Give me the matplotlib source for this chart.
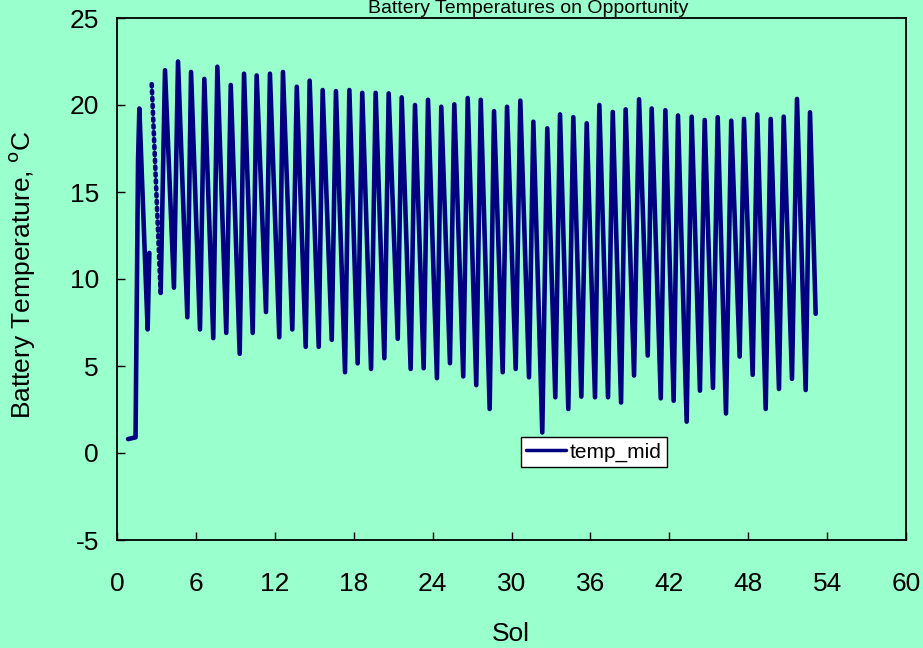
import numpy as np
import matplotlib
matplotlib.use("Agg")
import matplotlib.pyplot as plt

plt.rcParams['font.family'] = ['Liberation Sans', 'DejaVu Sans']
plt.rcParams['axes.unicode_minus'] = False

# Turning points of the temp_mid trace (sol, deg C)
sol = [0.84, 1.41, 1.60, 1.70, 2.33, 2.46,
       2.64, 3.32, 3.65, 4.33, 4.64, 5.35, 5.63, 6.31, 6.64, 7.32, 7.63, 8.31,
       8.65, 9.33, 9.66, 10.32, 10.62, 11.33, 11.63, 12.34, 12.62, 13.33, 13.67,
       14.35, 14.65, 15.34, 15.64, 16.33, 16.65, 17.34, 17.67, 18.30, 18.65,
       19.32, 19.67, 20.33, 20.66, 21.35, 21.65, 22.33, 22.66, 23.32, 23.65,
       24.33, 24.66, 25.32, 25.65, 26.33, 26.67, 27.32, 27.66, 28.34, 28.67,
       29.33, 29.66, 30.32, 30.67, 31.33, 31.66, 32.34, 32.72, 33.33, 33.69,
       34.32, 34.70, 35.31, 35.72, 36.35, 36.68, 37.34, 37.70, 38.33, 38.68,
       39.32, 39.70, 40.36, 40.66, 41.35, 41.70, 42.33, 42.66, 43.32, 43.70,
       44.33, 44.69, 45.32, 45.68, 46.31, 46.71, 47.35, 47.68, 48.34, 48.69,
       49.33, 49.71, 50.34, 50.70, 51.33, 51.71, 52.37, 52.70, 53.13]
temp_mid = [0.8, 0.9, 16.8, 19.8, 7.1, 11.5,
            21.2, 9.2, 22.0, 9.5, 22.5, 7.8, 21.9, 7.1, 21.5, 6.6, 22.2, 6.9,
            21.15, 5.7, 21.8, 6.9, 21.7, 8.1, 21.8, 6.65, 21.9, 7.1, 21.05,
            6.1, 21.4, 6.1, 20.86, 6.5, 20.8, 4.64, 20.86, 5.15, 20.7,
            4.83, 20.7, 5.45, 20.67, 6.56, 20.44, 4.83, 20.0, 4.87, 20.3,
            4.3, 19.9, 5.16, 20.04, 4.4, 20.4, 3.9, 20.3, 2.53, 19.65,
            4.64, 19.9, 4.83, 20.25, 4.35, 19.04, 1.18, 18.66, 3.2, 19.46,
            2.53, 19.3, 3.24, 18.95, 3.2, 20.0, 3.2, 19.6, 2.9, 19.75,
            4.45, 20.33, 5.6, 19.8, 3.14, 19.7, 3.0, 19.4, 1.8, 19.33,
            3.58, 19.14, 3.74, 19.3, 2.27, 19.1, 5.54, 19.2, 4.49, 19.46,
            2.53, 19.2, 3.68, 19.33, 4.26, 20.35, 3.62, 19.58, 8.0]

xticks = [0, 6, 12, 18, 24, 30, 36, 42, 48, 54, 60]
yticks = [-5, 0, 5, 10, 15, 20, 25]

bg = '#99FFCC'
navy = '#000080'
W, H = 923, 648

fig = plt.figure(figsize=(W / 100, H / 100), dpi=100, facecolor=bg)
ax = fig.add_axes([117 / W, 108 / H, 789 / W, 522 / H], facecolor=bg)

lw = 3.3
ax.plot(sol[:6], temp_mid[:6], color=navy, lw=lw, solid_joinstyle='round',
        solid_capstyle='round', label='temp_mid')
ax.plot(sol[6:8], temp_mid[6:8], color=navy, lw=lw, ls=(0, (0.5, 1.0)),
        dash_capstyle='round')
ax.plot(sol[7:], temp_mid[7:], color=navy, lw=lw, solid_joinstyle='round',
        solid_capstyle='round')

ax.set_xlim(0, 60)
ax.set_ylim(-5, 25)
ax.set_xticks(xticks)
ax.set_yticks(yticks)
ax.tick_params(direction='in', length=6, width=1, labelsize=19, colors='black')
ax.tick_params(axis='x', pad=23)
ax.tick_params(axis='y', pad=13)
for s in ax.spines.values():
    s.set_color('black')
    s.set_linewidth(1.3)

fig.text(22 / W, 1 - 275 / H, 'Battery Temperature, $^{\\mathrm{o}}$C',
         fontsize=19, rotation=90, ha='center', va='center')
fig.text(511 / W, 7 / H, 'Sol', fontsize=19, ha='center', va='baseline')
fig.text(528 / W, 1 - 13 / H, 'Battery Temperatures on Opportunity',
         fontsize=14, ha='center', va='baseline')

leg = ax.legend(loc='center', bbox_to_anchor=(0.6046, 0.1686), fontsize=15,
                frameon=True, fancybox=False, framealpha=1, edgecolor='black',
                handlelength=1.9, borderpad=0.25, handletextpad=0.2,
                borderaxespad=0)
leg.get_frame().set_linewidth(1.0)
for h in leg.get_lines():
    h.set_linewidth(2.5)

fig.savefig('out.png', dpi=100, facecolor=bg)
